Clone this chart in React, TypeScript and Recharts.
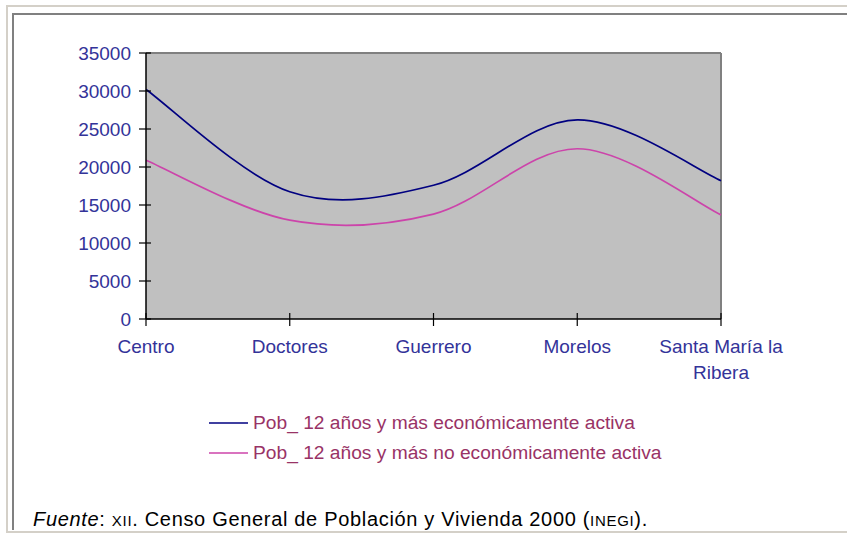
import React from 'react';
import { LineChart, Line, XAxis, YAxis, CartesianGrid, ReferenceLine, Legend } from 'recharts';

const categories = ['Centro', 'Doctores', 'Guerrero', 'Morelos', 'Santa María la Ribera'];
const activa = [30200, 16750, 17600, 26200, 18200];
const noActiva = [20900, 13000, 13800, 22400, 13700];
const yTicks = [0, 5000, 10000, 15000, 20000, 25000, 30000, 35000];
const seriesNames = [
  'Pob_ 12 años y más económicamente activa',
  'Pob_ 12 años y más no económicamente activa',
];

const data = categories.map((c, i) => ({ name: c, activa: activa[i], noActiva: noActiva[i] }));

const FONT = '"Liberation Sans", Arial, sans-serif';
const AXIS_TEXT = '#333399';
const LEGEND_TEXT = '#993366';
const NAVY = '#000080';
const PINK = '#cc44aa';

// Excel-like smoothed line (Catmull-Rom style bezier)
function excelCurve(context: any) {
  let pts: [number, number][] = [];
  return {
    areaStart() {},
    areaEnd() {},
    lineStart() {
      pts = [];
    },
    point(x: number, y: number) {
      pts.push([+x, +y]);
    },
    lineEnd() {
      const n = pts.length;
      if (!n) return;
      context.moveTo(pts[0][0], pts[0][1]);
      for (let i = 0; i < n - 1; i++) {
        const p0 = pts[Math.max(0, i - 1)];
        const p1 = pts[i];
        const p2 = pts[i + 1];
        const p3 = pts[Math.min(n - 1, i + 2)];
        context.bezierCurveTo(
          p1[0] + (p2[0] - p0[0]) / 6,
          p1[1] + (p2[1] - p0[1]) / 6,
          p2[0] - (p3[0] - p1[0]) / 6,
          p2[1] - (p3[1] - p1[1]) / 6,
          p2[0],
          p2[1]
        );
      }
    },
  };
}

function wrap(label: string, max: number): string[] {
  const words = label.split(' ');
  const lines: string[] = [];
  let cur = '';
  for (const w of words) {
    const next = cur ? cur + ' ' + w : w;
    if (next.length > max && cur) {
      lines.push(cur);
      cur = w;
    } else {
      cur = next;
    }
  }
  if (cur) lines.push(cur);
  return lines;
}

const XTick = (props: any) => {
  const { x, y, payload } = props;
  const lines = wrap(String(payload.value), 15);
  return (
    <g>
      <line x1={x} x2={x} y1={y - 6} y2={y + 7} stroke="#000" strokeWidth={1.2} />
      {lines.map((l, i) => (
        <text
          key={i}
          x={x}
          y={y + 34 + i * 26}
          textAnchor="middle"
          fill={AXIS_TEXT}
          fontSize={19}
          fontFamily={FONT}
        >
          {l}
        </text>
      ))}
    </g>
  );
};

const YTick = (props: any) => {
  const { x, y, payload } = props;
  return (
    <g>
      <line x1={x - 7} x2={x + 5} y1={y} y2={y} stroke="#000" strokeWidth={1.2} />
      <text x={x - 15} y={y + 7} textAnchor="end" fill={AXIS_TEXT} fontSize={19} fontFamily={FONT}>
        {payload.value}
      </text>
    </g>
  );
};

const LegendContent = () => {
  const colors = [NAVY, PINK];
  return (
    <div style={{ fontFamily: FONT, fontSize: 19.2, color: LEGEND_TEXT }}>
      {seriesNames.map((n, i) => (
        <div key={i} style={{ height: 30, display: 'flex', alignItems: 'center', paddingLeft: 209 }}>
          <svg width={39} height={4} style={{ display: 'block' }}>
            <line x1={0} x2={39} y1={2} y2={2} stroke={colors[i]} strokeWidth={1.3} />
          </svg>
          <span style={{ marginLeft: 5, whiteSpace: 'nowrap', lineHeight: '30px' }}>{n}</span>
        </div>
      ))}
    </div>
  );
};

export default function App() {
  return (
    <div style={{ position: 'absolute', left: 0, top: 0, width: 847, height: 536, background: '#fff', overflow: 'hidden' }}>
      {/* frame */}
      <div style={{ position: 'absolute', left: 6, top: 5, width: 841, height: 2, background: '#d4d0c8' }} />
      <div style={{ position: 'absolute', left: 6, top: 5, width: 2, height: 528, background: '#d4d0c8' }} />
      <div style={{ position: 'absolute', left: 6, top: 531, width: 841, height: 2, background: '#d4d0c8' }} />
      <div style={{ position: 'absolute', left: 12, top: 13, width: 835, height: 2, background: '#808080' }} />
      <div style={{ position: 'absolute', left: 12, top: 13, width: 2, height: 517, background: '#808080' }} />

      <div style={{ position: 'absolute', left: 0, top: 0 }}>
        <LineChart width={847} height={536} data={data} margin={{ top: 53, right: 126, left: 0, bottom: 137 }}>
          <CartesianGrid fill="#c0c0c0" horizontal={false} vertical={false} />
          <ReferenceLine y={35000} stroke="#808080" strokeWidth={2} />
          <ReferenceLine x="Santa María la Ribera" stroke="#808080" strokeWidth={2} />
          <XAxis
            dataKey="name"
            height={80}
            tick={<XTick />}
            tickLine={false}
            tickSize={0}
            tickMargin={0}
            interval={0}
            axisLine={{ stroke: '#000', strokeWidth: 1.5 }}
          />
          <YAxis
            width={146}
            domain={[0, 35000]}
            ticks={yTicks}
            tick={<YTick />}
            tickLine={false}
            tickSize={0}
            tickMargin={0}
            interval={0}
            axisLine={{ stroke: '#000', strokeWidth: 1.5 }}
          />
          <Line dataKey="activa" name={seriesNames[0]} type={excelCurve as any} stroke={NAVY} strokeWidth={1.7} dot={false} isAnimationActive={false} />
          <Line dataKey="noActiva" name={seriesNames[1]} type={excelCurve as any} stroke={PINK} strokeWidth={1.7} dot={false} isAnimationActive={false} />
          <Legend
            layout="horizontal"
            verticalAlign="middle"
            align="center"
            content={<LegendContent />}
            wrapperStyle={{ top: 408, left: 0, width: 847 }}
          />
        </LineChart>
      </div>

      <div style={{ position: 'absolute', left: 33, top: 506, fontFamily: FONT, fontSize: 20, lineHeight: '26px', letterSpacing: 0.68, color: '#000', whiteSpace: 'nowrap' }}>
        <i>Fuente</i>: <span style={{ fontSize: 15 }}>XII</span>. Censo General de Población y Vivienda 2000 (<span style={{ fontSize: 15 }}>INEGI</span>).
      </div>
    </div>
  );
}
